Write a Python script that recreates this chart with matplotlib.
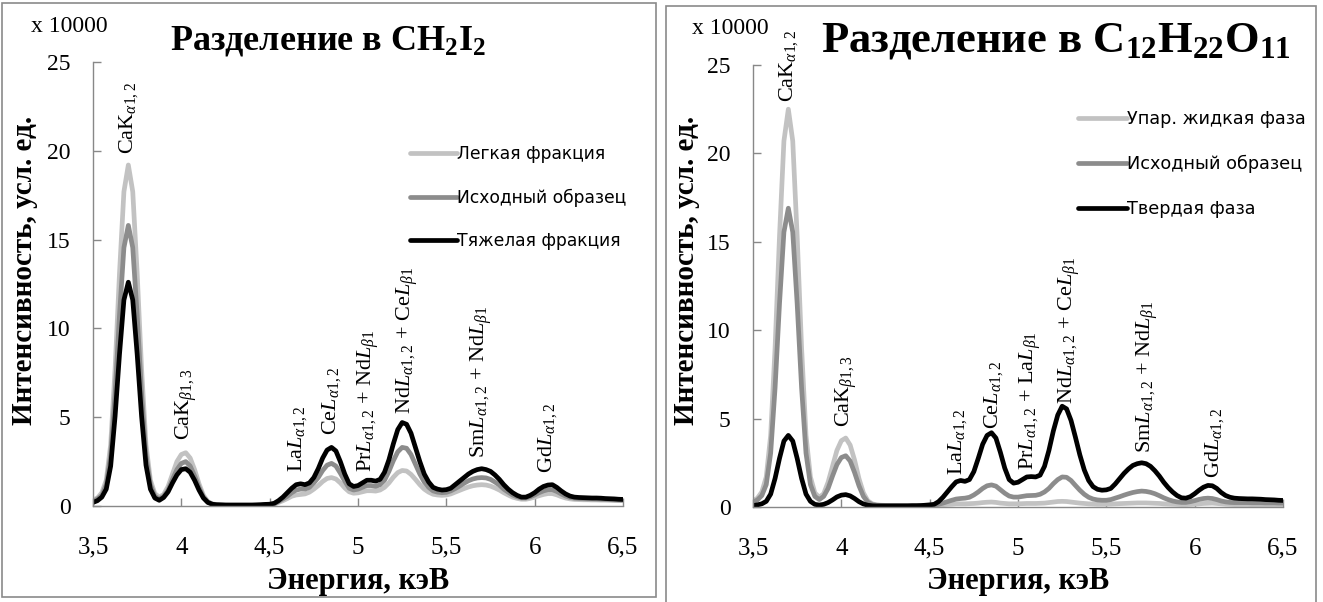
import matplotlib
matplotlib.use('Agg')
import matplotlib.pyplot as plt
from matplotlib.patches import Rectangle

plt.rcParams['font.family'] = ['Liberation Serif', 'DejaVu Serif']
plt.rcParams['mathtext.fontset'] = 'custom'
plt.rcParams['mathtext.rm'] = 'Liberation Serif'
plt.rcParams['mathtext.it'] = 'Liberation Serif:italic'
plt.rcParams['mathtext.bf'] = 'Liberation Serif:bold'

# ---------------- data ----------------
energy = [
    3.500, 3.525, 3.550, 3.575, 3.600, 3.625, 3.650, 3.675,
    3.700, 3.725, 3.750, 3.775, 3.800, 3.825, 3.850, 3.875,
    3.900, 3.925, 3.950, 3.975, 4.000, 4.025, 4.050, 4.075,
    4.100, 4.125, 4.150, 4.175, 4.200, 4.225, 4.250, 4.275,
    4.300, 4.325, 4.350, 4.375, 4.400, 4.425, 4.450, 4.475,
    4.500, 4.525, 4.550, 4.575, 4.600, 4.625, 4.650, 4.675,
    4.700, 4.725, 4.750, 4.775, 4.800, 4.825, 4.850, 4.875,
    4.900, 4.925, 4.950, 4.975, 5.000, 5.025, 5.050, 5.075,
    5.100, 5.125, 5.150, 5.175, 5.200, 5.225, 5.250, 5.275,
    5.300, 5.325, 5.350, 5.375, 5.400, 5.425, 5.450, 5.475,
    5.500, 5.525, 5.550, 5.575, 5.600, 5.625, 5.650, 5.675,
    5.700, 5.725, 5.750, 5.775, 5.800, 5.825, 5.850, 5.875,
    5.900, 5.925, 5.950, 5.975, 6.000, 6.025, 6.050, 6.075,
    6.100, 6.125, 6.150, 6.175, 6.200, 6.225, 6.250, 6.275,
    6.300, 6.325, 6.350, 6.375, 6.400, 6.425, 6.450, 6.475,
    6.500]

# Left panel: separation in CH2I2 (x 10000)
left_light = [
    0.35, 0.45, 0.75, 1.45, 3.45, 7.70, 13.10, 17.70,
    19.20, 17.70, 13.10, 7.70, 3.45, 1.45, 0.70, 0.50,
    0.65, 1.10, 1.80, 2.50, 2.90, 3.00, 2.70, 2.05,
    1.25, 0.60, 0.25, 0.12, 0.08, 0.07, 0.06, 0.05,
    0.05, 0.05, 0.05, 0.05, 0.05, 0.05, 0.06, 0.07,
    0.08, 0.10, 0.20, 0.30, 0.42, 0.55, 0.62, 0.65,
    0.68, 0.78, 0.95, 1.15, 1.38, 1.55, 1.60, 1.52,
    1.30, 1.02, 0.80, 0.72, 0.74, 0.80, 0.86, 0.86,
    0.84, 0.90, 1.05, 1.30, 1.62, 1.88, 2.00, 1.97,
    1.78, 1.50, 1.20, 0.95, 0.78, 0.66, 0.62, 0.60,
    0.62, 0.68, 0.78, 0.88, 0.98, 1.07, 1.14, 1.18,
    1.20, 1.18, 1.12, 1.02, 0.90, 0.75, 0.62, 0.50,
    0.43, 0.38, 0.38, 0.43, 0.50, 0.58, 0.65, 0.70,
    0.70, 0.63, 0.53, 0.45, 0.40, 0.37, 0.36, 0.35,
    0.35, 0.34, 0.34, 0.33, 0.33, 0.32, 0.31, 0.31,
    0.30]
left_initial = [
    0.25, 0.40, 0.60, 1.20, 2.85, 6.30, 10.75, 14.55,
    15.80, 14.55, 10.75, 6.30, 2.85, 1.20, 0.55, 0.40,
    0.55, 0.90, 1.50, 2.05, 2.40, 2.50, 2.25, 1.70,
    1.05, 0.50, 0.22, 0.10, 0.07, 0.06, 0.05, 0.05,
    0.05, 0.05, 0.05, 0.05, 0.05, 0.05, 0.06, 0.08,
    0.09, 0.12, 0.25, 0.40, 0.55, 0.75, 0.90, 0.95,
    0.95, 1.05, 1.30, 1.60, 2.00, 2.30, 2.40, 2.25,
    1.85, 1.40, 1.00, 0.90, 0.95, 1.05, 1.15, 1.15,
    1.10, 1.20, 1.45, 1.95, 2.55, 3.05, 3.30, 3.25,
    2.90, 2.35, 1.80, 1.35, 1.05, 0.85, 0.78, 0.75,
    0.77, 0.85, 0.98, 1.12, 1.28, 1.42, 1.52, 1.58,
    1.60, 1.58, 1.50, 1.35, 1.18, 0.95, 0.78, 0.62,
    0.52, 0.45, 0.45, 0.52, 0.62, 0.75, 0.85, 0.92,
    0.92, 0.82, 0.68, 0.56, 0.48, 0.44, 0.42, 0.41,
    0.40, 0.40, 0.39, 0.38, 0.37, 0.36, 0.35, 0.34,
    0.33]
left_heavy = [
    0.20, 0.30, 0.50, 0.95, 2.25, 5.05, 8.55, 11.60,
    12.60, 11.60, 8.55, 5.05, 2.30, 0.95, 0.45, 0.32,
    0.48, 0.80, 1.30, 1.75, 2.05, 2.10, 1.90, 1.45,
    0.90, 0.45, 0.20, 0.10, 0.07, 0.06, 0.05, 0.05,
    0.05, 0.05, 0.05, 0.05, 0.05, 0.06, 0.07, 0.09,
    0.10, 0.15, 0.30, 0.50, 0.75, 1.00, 1.20, 1.25,
    1.20, 1.30, 1.60, 2.10, 2.70, 3.15, 3.30, 3.10,
    2.50, 1.80, 1.25, 1.10, 1.15, 1.30, 1.45, 1.45,
    1.40, 1.50, 1.90, 2.60, 3.50, 4.30, 4.70, 4.60,
    4.10, 3.30, 2.50, 1.80, 1.35, 1.05, 0.95, 0.90,
    0.92, 1.00, 1.20, 1.40, 1.60, 1.80, 1.95, 2.05,
    2.10, 2.05, 1.95, 1.75, 1.50, 1.20, 0.95, 0.75,
    0.60, 0.50, 0.50, 0.60, 0.75, 0.95, 1.10, 1.18,
    1.20, 1.05, 0.85, 0.68, 0.56, 0.50, 0.48, 0.47,
    0.46, 0.45, 0.45, 0.44, 0.42, 0.41, 0.40, 0.38,
    0.37]

# Right panel: separation in C12H22O11 (x 10000)
right_liquid = [
    0.35, 0.50, 0.85, 1.70, 4.05, 9.00, 15.30, 20.70,
    22.50, 20.70, 15.30, 9.00, 4.05, 1.70, 0.80, 0.55,
    0.75, 1.40, 2.30, 3.20, 3.75, 3.90, 3.50, 2.65,
    1.60, 0.80, 0.35, 0.18, 0.12, 0.10, 0.09, 0.08,
    0.08, 0.08, 0.08, 0.08, 0.08, 0.08, 0.08, 0.09,
    0.10, 0.10, 0.12, 0.13, 0.15, 0.16, 0.18, 0.18,
    0.18, 0.19, 0.20, 0.22, 0.25, 0.27, 0.28, 0.26,
    0.22, 0.20, 0.18, 0.18, 0.18, 0.19, 0.20, 0.20,
    0.20, 0.21, 0.22, 0.25, 0.28, 0.31, 0.32, 0.31,
    0.28, 0.25, 0.22, 0.20, 0.18, 0.17, 0.16, 0.16,
    0.16, 0.17, 0.18, 0.19, 0.20, 0.21, 0.22, 0.23,
    0.23, 0.23, 0.22, 0.21, 0.20, 0.18, 0.17, 0.16,
    0.15, 0.14, 0.14, 0.15, 0.16, 0.18, 0.20, 0.21,
    0.22, 0.20, 0.18, 0.16, 0.15, 0.14, 0.14, 0.14,
    0.14, 0.13, 0.13, 0.13, 0.13, 0.12, 0.12, 0.12,
    0.12]
right_initial = [
    0.27, 0.40, 0.65, 1.27, 3.05, 6.75, 11.50, 15.55,
    16.90, 15.55, 11.50, 6.75, 3.05, 1.27, 0.60, 0.42,
    0.60, 1.05, 1.75, 2.40, 2.80, 2.90, 2.60, 1.95,
    1.20, 0.60, 0.27, 0.14, 0.10, 0.09, 0.08, 0.08,
    0.08, 0.08, 0.08, 0.08, 0.08, 0.08, 0.08, 0.09,
    0.09, 0.10, 0.15, 0.22, 0.30, 0.38, 0.45, 0.48,
    0.50, 0.55, 0.68, 0.85, 1.05, 1.20, 1.25, 1.18,
    0.98, 0.78, 0.62, 0.56, 0.56, 0.60, 0.64, 0.65,
    0.66, 0.72, 0.85, 1.05, 1.32, 1.55, 1.70, 1.68,
    1.50, 1.22, 0.95, 0.72, 0.55, 0.45, 0.40, 0.38,
    0.38, 0.42, 0.50, 0.58, 0.67, 0.75, 0.82, 0.87,
    0.90, 0.88, 0.83, 0.75, 0.64, 0.52, 0.42, 0.34,
    0.29, 0.26, 0.26, 0.30, 0.36, 0.43, 0.48, 0.50,
    0.48, 0.42, 0.34, 0.29, 0.26, 0.25, 0.25, 0.25,
    0.25, 0.24, 0.24, 0.24, 0.23, 0.23, 0.23, 0.22,
    0.22]
right_solid = [
    0.08, 0.12, 0.18, 0.32, 0.73, 1.62, 2.75, 3.73,
    4.05, 3.73, 2.75, 1.62, 0.73, 0.32, 0.15, 0.11,
    0.15, 0.25, 0.40, 0.57, 0.67, 0.70, 0.63, 0.48,
    0.30, 0.17, 0.10, 0.07, 0.06, 0.06, 0.06, 0.06,
    0.06, 0.06, 0.06, 0.06, 0.07, 0.07, 0.08, 0.10,
    0.12, 0.15, 0.30, 0.55, 0.85, 1.15, 1.42, 1.50,
    1.45, 1.55, 2.00, 2.75, 3.55, 4.05, 4.20, 3.90,
    3.10, 2.20, 1.55, 1.35, 1.40, 1.55, 1.70, 1.72,
    1.70, 1.80, 2.30, 3.20, 4.30, 5.20, 5.70, 5.55,
    4.90, 3.95, 2.95, 2.10, 1.50, 1.15, 1.00, 0.95,
    0.97, 1.05, 1.30, 1.60, 1.90, 2.15, 2.35, 2.45,
    2.50, 2.45, 2.30, 2.05, 1.75, 1.40, 1.10, 0.85,
    0.65, 0.52, 0.50, 0.58, 0.75, 0.95, 1.12, 1.22,
    1.20, 1.05, 0.82, 0.65, 0.55, 0.50, 0.48, 0.47,
    0.46, 0.46, 0.45, 0.44, 0.42, 0.41, 0.40, 0.38,
    0.37]

left_series_names = ['Легкая фракция', 'Исходный образец', 'Тяжелая фракция']
right_series_names = ['Упар. жидкая фаза', 'Исходный образец', 'Твердая фаза']

x_ticks = [3.5, 4.0, 4.5, 5.0, 5.5, 6.0, 6.5]
x_tick_labels = ['3,5', '4', '4,5', '5', '5,5', '6', '6,5']
y_ticks = [0, 5, 10, 15, 20, 25]
y_tick_labels = ['0', '5', '10', '15', '20', '25']

left_peak_labels = [
    r'CaK$_{\alpha1,2}$', r'CaK$_{\beta1,3}$', r'La$L_{\alpha1,2}$', r'Ce$L_{\alpha1,2}$',
    r'Pr$L_{\alpha1,2}$ + Nd$L_{\beta1}$', r'Nd$L_{\alpha1,2}$ + Ce$L_{\beta1}$',
    r'Sm$L_{\alpha1,2}$ + Nd$L_{\beta1}$', r'Gd$L_{\alpha1,2}$']
left_peak_x = [3.70, 4.03, 4.655, 4.85, 5.06, 5.28, 5.70, 6.075]
left_peak_y = [19.8, 3.7, 1.9, 4.0, 1.9, 5.2, 2.7, 1.85]

right_peak_labels = [
    r'CaK$_{\alpha1,2}$', r'CaK$_{\beta1,3}$', r'La$L_{\alpha1,2}$', r'Ce$L_{\alpha1,2}$',
    r'Pr$L_{\alpha1,2}$ + La$L_{\beta1}$', r'Nd$L_{\alpha1,2}$ + Ce$L_{\beta1}$',
    r'Sm$L_{\alpha1,2}$ + Nd$L_{\beta1}$', r'Gd$L_{\alpha1,2}$']
right_peak_x = [3.70, 4.03, 4.66, 4.86, 5.07, 5.29, 5.73, 6.11]
right_peak_y = [22.9, 4.5, 1.8, 4.4, 2.1, 5.8, 3.05, 1.65]

# ---------------- figure ----------------
W, H = 1323, 602
fig = plt.figure(figsize=(W / 100, H / 100), dpi=100)


def fx(px):
    return px / W


def fy(py):
    return 1 - py / H


border_col = '#8a8a8a'
fig.add_artist(Rectangle((fx(2), fy(597)), fx(656) - fx(2), fy(3) - fy(597),
                         transform=fig.transFigure, fill=False, ec=border_col, lw=1.2))
fig.add_artist(Rectangle((fx(666), fy(640)), fx(1316) - fx(666), fy(6) - fy(640),
                         transform=fig.transFigure, fill=False, ec=border_col, lw=1.2,
                         clip_on=False))

colors = ['#c2c2c2', '#8c8c8c', '#000000']
lws = [3.4, 3.4, 3.4]


def make_panel(rect, series, names, labels, lx, ly, title, title_cx, title_size,
               legend_xy, legend_size, legend_spacing, mult_xy, ylab_x, xlab_cx):
    ax = fig.add_axes(rect)
    for s, c, lw, n in zip(series, colors, lws, names):
        ax.plot(energy, s, color=c, lw=lw, label=n, solid_capstyle='round',
                solid_joinstyle='round')
    ax.set_xlim(3.5, 6.5)
    ax.set_ylim(0, 25)
    ax.set_xticks(x_ticks)
    ax.set_xticklabels(x_tick_labels)
    ax.set_yticks(y_ticks)
    ax.set_yticklabels(y_tick_labels)
    for sp in ['top', 'right']:
        ax.spines[sp].set_visible(False)
    for sp in ['left', 'bottom']:
        ax.spines[sp].set_color('#888888')
        ax.spines[sp].set_linewidth(1.0)
    ax.tick_params(axis='both', direction='in', length=6, width=1.0, color='#888888')
    ax.tick_params(axis='x', pad=22, labelsize=18)
    ax.tick_params(axis='y', pad=16, labelsize=17)
    ax.patch.set_alpha(0)
    for t, x, y in zip(labels, lx, ly):
        ax.text(x, y, t, rotation=90, ha='center', va='bottom', fontsize=16,
                clip_on=False)
    ax.legend(loc='upper left', bbox_to_anchor=legend_xy,
              bbox_transform=fig.transFigure, frameon=False,
              prop={'family': 'DejaVu Sans', 'size': legend_size},
              handlelength=2.75, handletextpad=0.0, labelspacing=legend_spacing,
              borderpad=0, borderaxespad=0)
    fig.text(title_cx, fy(41), title, ha='center', va='center', fontsize=title_size,
             fontweight='bold')
    fig.text(mult_xy[0], mult_xy[1], 'x 10000', ha='left', va='center', fontsize=17)
    fig.text(ylab_x, fy(270), 'Интенсивность, усл. ед.', rotation=90, ha='center',
             va='center', fontsize=21, fontweight='bold')
    fig.text(xlab_cx, fy(582), 'Энергия, кэВ', ha='center', va='center', fontsize=22,
             fontweight='bold')
    return ax


make_panel([fx(93), fy(506), fx(623) - fx(93), fy(62) - fy(506)],
           [left_light, left_initial, left_heavy], left_series_names,
           left_peak_labels, left_peak_x, left_peak_y,
           r'Разделение в CH$_{\mathbf{2}}$I$_{\mathbf{2}}$', fx(328), 26,
           (fx(410), fy(145)), 12.3, 1.49, (fx(31), fy(26)), fx(25), fx(358))

make_panel([fx(753), fy(507), fx(1283) - fx(753), fy(65) - fy(507)],
           [right_liquid, right_initial, right_solid], right_series_names,
           right_peak_labels, right_peak_x, right_peak_y,
           r'Разделение в C$_{\mathbf{12}}$H$_{\mathbf{22}}$O$_{\mathbf{11}}$', fx(1056), 32,
           (fx(1078), fy(110)), 12.7, 1.53, (fx(692), fy(28)), fx(687), fx(1018))

fig.savefig('out.png', dpi=100, facecolor='white')
